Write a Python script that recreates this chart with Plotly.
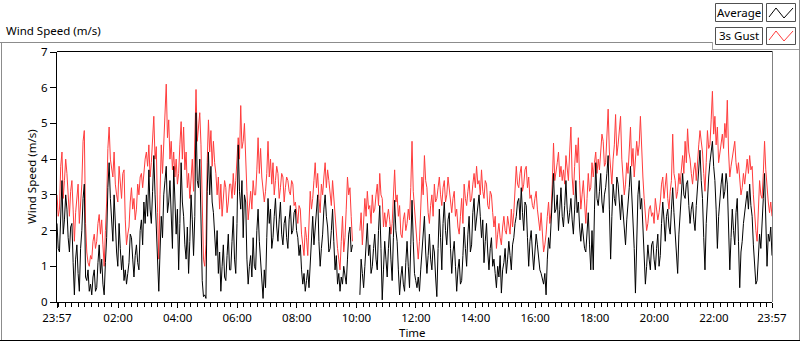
import pandas as pd
import plotly.graph_objects as go

# ---------------- data (2.5-minute samples) ----------------
start_time = "2020-01-01 23:57"
step = "150s"

gust = [
    # 23:57 + 0h
    3.0, 2.4, 2.6, 3.8, 4.2, 2.9, 3.4, 4.0, 3.6, 2.9, 2.4, 3.1, 3.4, 2.6, 1.7, 2.5, 2.9, 3.3, 2.2, 2.8, 3.3, 4.5, 4.8, 2.2,
    # +1h
    1.4, 1.1, 1.0, 1.3, 1.2, 1.7, 1.9, 1.5, 1.7, 2.2, 2.45, 1.9, 2.3, 1.6, 1.0, 2.0, 2.8, 4.3, 4.9, 4.0, 3.8, 3.5, 4.2, 3.3,
    # +2h
    3.0, 2.8, 3.8, 3.2, 2.9, 3.6, 3.7, 2.3, 1.6, 1.9, 2.1, 2.8, 3.2, 2.6, 2.9, 2.3, 2.6, 3.3, 3.0, 3.5, 3.6, 3.2, 3.7, 4.0,
    # +3h
    4.2, 3.8, 4.4, 3.5, 3.9, 4.6, 5.2, 4.0, 4.35, 2.5, 1.2, 3.0, 4.4, 3.6, 4.4, 5.0, 6.1, 4.6, 5.1, 4.0, 4.5, 3.7, 4.2, 3.5,
    # +4h
    4.0, 3.3, 3.6, 4.4, 5.05, 4.0, 4.9, 3.7, 4.2, 3.2, 3.6, 2.9, 3.4, 4.0, 3.1, 4.6, 5.95, 4.5, 4.9, 5.3, 4.4, 2.5, 1.2, 1.0,
    # +5h
    1.6, 3.9, 5.1, 4.2, 4.8, 3.8, 4.5, 3.9, 3.6, 3.0, 3.5, 2.6, 3.3, 2.4, 2.9, 3.4, 3.2, 2.5, 2.8, 3.3, 3.3, 2.9, 3.6, 3.0,
    # +6h
    3.4, 3.9, 4.6, 4.0, 5.5, 4.3, 4.5, 5.0, 3.8, 3.1, 2.3, 2.7, 3.1, 2.6, 3.4, 3.0, 3.0, 3.7, 4.6, 3.6, 4.3, 3.5, 3.2, 2.8,
    # +7h
    3.1, 3.6, 4.5, 3.5, 4.0, 3.3, 3.9, 3.0, 3.4, 3.8, 3.6, 2.9, 3.2, 3.6, 3.5, 2.8, 3.2, 3.5, 3.4, 3.1, 3.0, 3.4, 3.3, 2.7,
    # +8h
    2.8, 2.4, 2.2, 2.7, 2.6, 1.9, 1.6, 1.3, 2.1, 1.8, 1.3, 2.3, 3.1, 2.6, 2.9, 3.4, 3.9, 3.2, 3.6, 2.9, 2.5, 3.3, 3.0, 3.5,
    # +9h
    3.9, 3.2, 3.7, 3.4, 3.0, 2.7, 3.4, 2.9, 2.4, 1.9, 1.5, 1.2, 0.9, 1.7, 2.4, 1.4, 1.8, 2.6, 3.5, 3.0, 3.2, 2.4, 1.7, None,
    # +10h (gap in the record)
    None, None, None, None, 2.0, 2.5, 1.6, 2.2, 2.9, 2.4, 3.1, 2.6, 2.7, 2.2, 3.0, 2.5, 2.6, 3.0, 3.3, 2.7, 3.6, 3.0, 2.9, 2.1,
    # +11h
    2.5, 2.1, 2.4, 2.6, 2.3, 1.9, 2.2, 2.9, 3.7, 2.8, 3.0, 2.4, 2.7, 1.9, 1.8, 2.3, 2.5, 2.0, 2.2, 2.6, 2.3, 3.2, 4.5, 3.1,
    # +12h
    2.6, 1.9, 1.4, 1.2, 1.7, 2.6, 3.5, 3.0, 4.1, 3.4, 3.2, 2.5, 2.2, 2.7, 3.0, 2.4, 3.3, 2.8, 2.9, 3.2, 3.5, 3.0, 2.7, 3.2,
    # +13h
    3.4, 2.8, 3.0, 3.5, 3.2, 2.8, 2.5, 2.9, 3.1, 2.4, 2.6, 2.1, 1.9, 2.4, 2.9, 2.2, 3.3, 2.9, 2.7, 3.1, 3.4, 2.8, 2.9, 3.3,
    # +14h
    3.6, 3.2, 3.8, 3.3, 3.4, 3.0, 3.7, 3.1, 2.9, 3.4, 3.3, 2.7, 2.6, 3.1, 3.0, 2.5, 2.1, 2.4, 1.5, 1.9, 2.2, 1.8, 1.6, 2.1,
    # +15h
    2.4, 2.0, 1.9, 2.4, 2.2, 1.9, 2.6, 2.1, 2.5, 3.1, 3.8, 3.3, 3.2, 3.6, 3.8, 3.1, 3.3, 3.7, 3.8, 3.2, 3.5, 2.9, 3.0, 2.7,
    # +16h
    2.6, 2.9, 3.1, 2.6, 2.2, 2.0, 2.5, 1.8, 1.4, 1.6, 1.9, 2.4, 2.8, 2.2, 2.5, 3.3, 4.45, 3.4, 3.6, 3.9, 4.2, 3.5, 3.8, 3.4,
    # +17h
    3.7, 3.3, 4.1, 3.6, 3.4, 4.2, 4.9, 3.5, 3.0, 3.8, 4.4, 3.9, 4.6, 3.4, 2.6, 3.0, 3.4, 2.8, 2.2, 2.9, 3.6, 3.1, 3.2, 3.9,
    # +18h
    3.5, 3.9, 4.2, 3.6, 4.0, 3.7, 4.1, 4.7, 4.5, 3.8, 3.9, 4.6, 5.4, 4.2, 3.6, 3.3, 4.0, 4.4, 5.25, 4.1, 4.4, 4.8, 5.2, 4.0,
    # +19h
    3.6, 3.0, 3.3, 3.9, 3.6, 4.2, 4.9, 3.8, 4.3, 3.5, 3.9, 4.5, 4.1, 4.4, 5.2, 4.0, 3.5, 2.9, 2.4, 2.0, 2.2, 2.6, 2.7, 2.4,
    # +20h
    2.5, 2.2, 2.9, 2.6, 2.3, 2.5, 2.8, 3.3, 3.5, 2.9, 3.2, 3.6, 2.9, 2.6, 3.1, 3.4, 4.7, 3.6, 3.4, 2.9, 3.1, 3.6, 3.3, 3.8,
    # +21h
    4.1, 3.6, 4.5, 3.9, 4.85, 4.2, 4.0, 3.6, 3.3, 3.7, 3.9, 3.4, 4.0, 4.4, 4.8, 4.5, 4.2, 3.6, 3.1, 3.9, 4.8, 4.3, 4.4, 5.1,
    # +22h
    5.9, 4.7, 5.2, 4.4, 4.9, 3.9, 4.2, 4.5, 4.7, 4.3, 5.0, 4.6, 5.65, 4.2, 3.5, 3.8, 4.0, 4.3, 4.5, 3.9, 3.6, 3.9, 3.4, 3.0,
    # +23h
    3.2, 3.6, 3.3, 3.7, 4.0, 3.6, 4.1, 3.7, 3.8, 3.0, 2.3, 2.0, 1.7, 2.6, 3.4, 3.0, 2.9, 3.6, 4.5, 3.7, 3.1, 2.8, 2.5, 2.8,
    # end
    2.4,
]

average = [
    # 23:57 + 0h
    2.2, 1.5, 1.4, 2.8, 3.4, 1.9, 2.3, 3.0, 2.6, 1.8, 1.4, 2.1, 2.2, 1.1, 0.2, 1.2, 1.6, 0.8, 0.3, 1.5, 2.0, 2.9, 3.3, 0.7,
    # +1h
    0.6, 0.9, 0.3, 0.5, 0.2, 0.7, 0.9, 0.3, 0.4, 1.1, 1.6, 0.8, 1.2, 0.5, 0.2, 1.1, 1.8, 3.2, 3.9, 2.9, 2.2, 1.7, 3.0, 2.0,
    # +2h
    1.4, 1.0, 2.2, 1.5, 0.9, 1.3, 0.6, 0.9, 0.5, 0.8, 1.1, 1.9, 1.8, 1.2, 0.7, 1.3, 1.6, 1.1, 0.9, 2.0, 2.3, 1.6, 2.8, 2.2,
    # +3h
    3.0, 2.4, 3.7, 2.6, 2.2, 3.1, 4.1, 3.0, 2.0, 1.0, 0.3, 1.4, 2.4, 1.8, 3.0, 3.4, 3.8, 2.5, 2.8, 3.4, 2.2, 1.5, 3.8, 2.6,
    # +4h
    1.9, 2.6, 0.9, 2.2, 3.9, 2.8, 2.4, 1.6, 1.2, 2.1, 0.8, 1.7, 3.0, 2.3, 1.3, 2.4, 5.3, 3.4, 3.2, 4.0, 2.6, 0.6, 0.15, 0.2,
    # +5h
    0.1, 3.1, 4.2, 3.0, 3.8, 2.8, 2.5, 1.8, 1.3, 2.0, 0.8, 1.4, 0.3, 1.0, 1.6, 0.7, 0.6, 1.3, 1.9, 0.9, 0.9, 1.7, 2.4, 1.2,
    # +6h
    0.8, 2.2, 4.4, 3.1, 2.6, 3.4, 1.8, 3.0, 2.8, 1.2, 0.5, 1.0, 1.3, 0.7, 1.8, 1.0, 0.9, 2.0, 2.6, 1.7, 1.2, 0.6, 0.1, 0.9,
    # +7h
    0.4, 1.8, 2.9, 2.2, 2.6, 1.5, 1.8, 2.4, 2.9, 2.1, 1.7, 2.3, 2.8, 1.9, 1.6, 2.2, 2.4, 1.8, 1.5, 2.3, 2.7, 1.9, 2.0, 2.5,
    # +8h
    2.6, 2.0, 1.8, 1.3, 1.6, 0.9, 0.5, 0.8, 0.3, 0.6, 0.9, 0.4, 1.0, 1.8, 2.4, 1.6, 2.1, 2.8, 3.0, 1.7, 1.0, 1.5, 1.9, 2.6,
    # +9h
    3.0, 2.4, 2.1, 1.4, 1.5, 2.0, 2.6, 1.7, 0.9, 1.3, 0.5, 0.8, 0.3, 0.7, 0.5, 1.0, 0.8, 0.5, 1.2, 1.9, 2.1, 1.4, 1.6, None,
    # +10h (gap in the record)
    None, None, None, None, 0.2, 1.2, 0.8, 0.4, 1.0, 1.6, 2.2, 1.3, 1.6, 0.8, 1.0, 1.5, 1.9, 1.2, 0.9, 2.0, 2.7, 1.5, 0.06, 0.9,
    # +11h
    1.7, 1.2, 0.7, 1.5, 2.1, 1.2, 0.6, 1.8, 2.85, 2.0, 1.7, 0.9, 0.2, 0.7, 1.0, 0.5, 0.3, 1.1, 1.7, 1.0, 0.4, 1.6, 2.85, 1.7,
    # +12h
    0.8, 0.6, 0.4, 0.7, 0.3, 0.9, 1.5, 2.0, 2.4, 1.4, 0.8, 1.3, 1.9, 1.2, 0.9, 1.6, 1.4, 0.7, 0.15, 1.5, 2.6, 1.8, 0.9, 2.2,
    # +13h
    2.8, 2.0, 1.6, 2.3, 2.5, 1.5, 0.8, 1.4, 1.7, 1.0, 0.3, 0.9, 1.2, 0.5, 0.6, 1.3, 2.1, 1.5, 1.0, 1.9, 2.4, 1.4, 1.6, 2.5,
    # +14h
    2.9, 2.0, 2.3, 2.7, 3.0, 2.4, 1.8, 2.3, 1.1, 1.7, 2.2, 1.4, 0.9, 1.5, 1.8, 1.0, 1.2, 0.8, 0.4, 1.0, 0.7, 1.3, 0.25, 0.9,
    # +15h
    1.1, 1.5, 0.8, 1.2, 1.7, 1.3, 0.9, 1.6, 1.8, 2.2, 2.4, 2.8, 2.9, 2.3, 3.2, 2.5, 2.0, 2.8, 2.7, 1.8, 1.0, 1.7, 2.0, 1.4,
    # +16h
    0.9, 1.4, 1.9, 1.6, 1.3, 0.9, 0.8, 0.6, 0.5, 0.8, 0.2, 1.2, 1.8, 1.5, 2.2, 2.7, 3.6, 2.5, 2.6, 3.0, 2.0, 2.6, 3.2, 2.4,
    # +17h
    2.1, 2.7, 3.4, 2.6, 2.2, 2.5, 2.9, 2.3, 1.9, 2.6, 3.4, 2.5, 2.8, 2.1, 1.7, 2.2, 1.9, 1.5, 1.4, 1.9, 2.5, 1.6, 0.9, 2.0,
    # +18h
    0.9, 2.6, 3.9, 2.9, 2.7, 3.1, 3.6, 2.8, 2.5, 3.0, 3.2, 3.6, 4.1, 2.6, 1.2, 2.4, 3.3, 2.9, 2.7, 3.5, 3.3, 2.8, 2.3, 3.0,
    # +19h
    2.5, 2.0, 1.6, 2.3, 2.7, 3.2, 3.8, 3.0, 2.6, 1.5, 0.25, 2.2, 3.0, 3.4, 2.6, 2.9, 2.2, 1.3, 0.5, 1.0, 1.6, 1.2, 0.9, 1.6,
    # +20h
    1.7, 1.2, 0.9, 1.5, 1.9, 1.0, 1.3, 2.2, 2.8, 2.3, 1.7, 2.4, 2.6, 2.1, 1.9, 2.6, 3.2, 2.5, 1.8, 1.2, 0.8, 1.9, 2.4, 3.0,
    # +21h
    3.6, 3.0, 2.9, 3.3, 3.4, 2.7, 2.2, 2.6, 2.8, 2.3, 2.0, 2.7, 3.3, 3.8, 4.25, 3.4, 2.9, 1.8, 0.9, 2.2, 3.0, 3.5, 3.9, 4.2,
    # +22h
    4.5, 3.8, 3.4, 2.6, 1.5, 2.4, 3.0, 3.3, 3.6, 2.9, 3.1, 3.6, 3.3, 2.0, 0.9, 1.8, 2.6, 2.0, 1.6, 2.5, 2.9, 1.7, 0.4, 1.4,
    # +23h
    1.7, 2.2, 2.5, 2.8, 3.1, 2.6, 3.3, 2.7, 2.4, 1.6, 0.9, 0.5, 0.6, 1.3, 1.9, 1.5, 2.4, 2.9, 3.6, 2.4, 1.0, 1.9, 1.7, 2.1,
    # end
    1.3,
]

tick_times = ["2020-01-01 23:57", "2020-01-02 02:00", "2020-01-02 04:00", "2020-01-02 06:00",
              "2020-01-02 08:00", "2020-01-02 10:00", "2020-01-02 12:00", "2020-01-02 14:00",
              "2020-01-02 16:00", "2020-01-02 18:00", "2020-01-02 20:00", "2020-01-02 22:00",
              "2020-01-02 23:57"]
tick_labels = ["23:57", "02:00", "04:00", "06:00", "08:00", "10:00", "12:00", "14:00",
               "16:00", "18:00", "20:00", "22:00", "23:57"]
y_ticks = [0, 1, 2, 3, 4, 5, 6, 7]

series_names = ["Average", "3s Gust"]

assert len(gust) == len(average) == 577, (len(gust), len(average))

# ---------------- figure ----------------
times = pd.date_range(start=start_time, periods=len(gust), freq=step)

RED = "rgb(255,60,60)"
FONT = "Noto Sans"
FS = 11.5

fig = go.Figure()
fig.add_trace(go.Scatter(x=times, y=gust, mode="lines", name=series_names[1],
                         line=dict(color=RED, width=1), connectgaps=False, hoverinfo="skip"))
fig.add_trace(go.Scatter(x=times, y=average, mode="lines", name=series_names[0],
                         line=dict(color="black", width=1), connectgaps=False, hoverinfo="skip"))

# plot area in pixels
L, R, T, B = 57, 772, 52, 302
W, H = 800, 342


def px(x):
    return (x - L) / (R - L)


def py(y):
    return (B - y) / (B - T)


shapes = []


def hline(x0, x1, y, color, w=1):
    shapes.append(dict(type="line", xref="paper", yref="paper", x0=px(x0), x1=px(x1),
                       y0=py(y), y1=py(y), line=dict(color=color, width=w)))


def vline(x, y0, y1, color, w=1):
    shapes.append(dict(type="line", xref="paper", yref="paper", x0=px(x), x1=px(x),
                       y0=py(y0), y1=py(y1), line=dict(color=color, width=w)))


def rect(x0, y0, x1, y1, color):
    shapes.append(dict(type="rect", xref="paper", yref="paper", x0=px(x0), x1=px(x1),
                       y0=py(y0), y1=py(y1), line=dict(color=color, width=1),
                       fillcolor="white", layer="below"))


def zig(points, color):
    d = "M " + " L ".join(f"{px(a)},{py(b)}" for a, b in points)
    shapes.append(dict(type="path", xref="paper", yref="paper", path=d,
                       line=dict(color=color, width=1)))


# panel frame
hline(0, 712, 42.5, "#8c8c8c")
vline(712.5, 42, 49, "#a0a0a0")
hline(712, 800, 49.5, "#a0a0a0")
vline(799.5, 0, 341, "#8c8c8c")
vline(1.5, 42, 341, "#8c8c8c")
hline(0, 800, 340.5, "black")
# plot frame top / right
hline(L, R, 51.5, "black")
vline(R + 0.5, 51, B, "#808080")

# legend boxes
rect(715.5, 3.5, 762.5, 21.5, "#505050")
rect(766.5, 3.5, 795.5, 21.5, "#505050")
rect(715.5, 27.5, 762.5, 44.5, "#505050")
rect(766.5, 27.5, 795.5, 44.5, "#505050")
zig([(769, 17), (776, 8), (784, 18), (793, 8)], "black")
zig([(769, 40), (776, 31), (784, 41), (793, 31)], RED)

txt = dict(showarrow=False, xref="paper", yref="paper", font=dict(family=FONT, size=FS, color="black"))
annotations = [
    dict(text="Wind Speed (m/s)", x=px(4), y=py(31), xanchor="left", yanchor="middle", **txt),
    dict(text="Wind Speed (m/s)", x=px(31), y=py(177), xanchor="center", yanchor="middle",
         textangle=-90, **txt),
    dict(text="Time", x=px(412), y=py(332), xanchor="center", yanchor="middle", **txt),
    dict(text=series_names[0], x=px(739), y=py(12.5), xanchor="center", yanchor="middle", **txt),
    dict(text=series_names[1], x=px(739), y=py(36), xanchor="center", yanchor="middle", **txt),
]

fig.update_layout(
    width=W, height=H,
    margin=dict(l=L, r=W - R, t=T, b=H - B, pad=0),
    paper_bgcolor="white", plot_bgcolor="white",
    showlegend=False,
    hovermode=False,
    shapes=shapes,
    annotations=annotations,
    font=dict(family=FONT, size=FS, color="black"),
)

fig.update_xaxes(
    type="date",
    range=[tick_times[0], tick_times[-1]],
    tickmode="array", tickvals=tick_times, ticktext=tick_labels,
    ticks="outside", ticklen=5, tickcolor="black", tickwidth=1,
    showline=True, linecolor="black", linewidth=1,
    showgrid=False, zeroline=False,
    tickfont=dict(family=FONT, size=FS, color="black"),
    minor=dict(ticks="outside", ticklen=4, tickcolor="black", tickwidth=1,
               dtick=800000, tick0="2020-01-02 00:00", showgrid=False),
)
fig.update_yaxes(
    range=[0, 7], tickmode="array", tickvals=y_ticks,
    ticks="outside", ticklen=6, tickcolor="black", tickwidth=1,
    showline=True, linecolor="black", linewidth=1,
    showgrid=False, zeroline=False,
    tickfont=dict(family=FONT, size=FS, color="black"),
)

fig.write_html("out.html",
               config={"displayModeBar": False, "staticPlot": True},
               post_script="document.body.style.margin='0';document.body.style.overflow='hidden';")
